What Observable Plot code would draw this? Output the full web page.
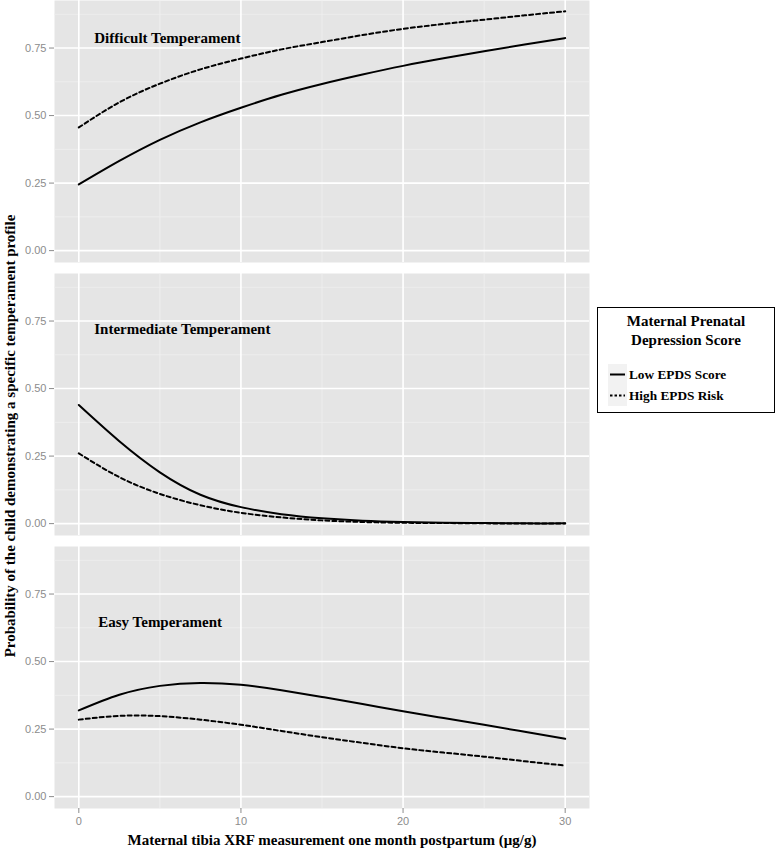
<!DOCTYPE html>
<html>
<head>
<meta charset="utf-8">
<script src="https://cdn.jsdelivr.net/npm/d3@7"></script>
<script src="https://cdn.jsdelivr.net/npm/@observablehq/plot@0.6"></script>
<style>
  html, body { margin: 0; padding: 0; background: #fff; }
  #wrap { position: relative; width: 777px; height: 849px; overflow: hidden; }
  .serif { font-family: "Liberation Serif", "Times New Roman", serif; font-weight: bold; color: #000; }
  #ytitle { position: absolute; left: 10px; top: 436px; transform: translate(-50%, -50%) rotate(-90deg); white-space: nowrap; font-size: 15px; }
  #xtitle { position: absolute; left: 332px; top: 832px; transform: translateX(-50%); white-space: nowrap; font-size: 15px; line-height: 16px; }
  #legend { position: absolute; left: 597px; top: 307px; width: 176px; height: 104px; border: 1.5px solid #000; background: #fff; }
  #legend .ltitle { text-align: center; font-size: 15px; line-height: 19px; margin-top: 4px; }
  #legend .entries { position: absolute; left: 10px; top: 56px; }
  #legend .entry { display: flex; align-items: center; height: 21px; font-size: 13.3px; }
  #legend .entry svg { display: block; margin-right: 2px; }
</style>
</head>
<body>
<div id="wrap">
  <div id="chart"></div>
  <div id="ytitle" class="serif"></div>
  <div id="xtitle" class="serif"></div>
  <div id="legend" class="serif"></div>
</div>
<script>
// ---- data ----
const xValues = [0, 2.5, 5, 7.5, 10, 12.5, 15, 17.5, 20, 22.5, 25, 27.5, 30];
const difficultLow  = [0.245, 0.332, 0.410, 0.475, 0.529, 0.577, 0.617, 0.652, 0.684, 0.712, 0.738, 0.763, 0.787];
const difficultHigh = [0.456, 0.549, 0.618, 0.671, 0.711, 0.745, 0.772, 0.798, 0.821, 0.839, 0.855, 0.871, 0.886];
const intermediateLow  = [0.439, 0.305, 0.190, 0.107, 0.061, 0.035, 0.020, 0.011, 0.006, 0.003, 0.002, 0.001, 0.001];
const intermediateHigh = [0.260, 0.172, 0.110, 0.068, 0.040, 0.023, 0.012, 0.006, 0.003, 0.002, 0.001, 0.0005, 0.0003];
const easyLow  = [0.319, 0.377, 0.410, 0.421, 0.414, 0.394, 0.369, 0.343, 0.316, 0.291, 0.266, 0.240, 0.214];
const easyHigh = [0.285, 0.299, 0.298, 0.285, 0.266, 0.243, 0.220, 0.199, 0.179, 0.163, 0.148, 0.131, 0.115];
const panels = ["Difficult Temperament", "Intermediate Temperament", "Easy Temperament"];
const seriesNames = ["Low EPDS Score", "High EPDS Risk"];
const xTicks = [0, 10, 20, 30];
const yTicks = [0, 0.25, 0.5, 0.75];
const xMinor = [5, 15, 25];
const yMinor = [0.125, 0.375, 0.625, 0.875];
const xTitle = "Maternal tibia XRF measurement one month postpartum (μg/g)";
const yTitle = "Probability of the child demonstrating a specific temperament profile";
const legendTitle = ["Maternal Prenatal", "Depression Score"];

// ---- build table ----
const seriesByPanel = [
  [difficultLow, difficultHigh],
  [intermediateLow, intermediateHigh],
  [easyLow, easyHigh]
];
const rows = [];
panels.forEach((p, i) => {
  seriesByPanel[i].forEach((vals, j) => {
    vals.forEach((v, k) => rows.push({panel: p, series: seriesNames[j], x: xValues[k], y: v}));
  });
});
const solid = rows.filter(d => d.series === seriesNames[0]);
const dashed = rows.filter(d => d.series === seriesNames[1]);
const labelPos = [[0.95, 0.785], [0.95, 0.718], [1.2, 0.645]];
const labels = panels.map((p, i) => ({panel: p, x: labelPos[i][0], y: labelPos[i][1]}));

const chart = Plot.plot({
  width: 777,
  height: 849,
  marginLeft: 54,
  marginRight: 188,
  marginTop: 0,
  marginBottom: 41,
  style: {fontFamily: "'Liberation Sans', Arial, sans-serif", fontSize: "11px", background: "#fff"},
  x: {domain: [-1.5, 31.5]},
  y: {domain: [-0.044, 0.926]},
  fy: {domain: panels, axis: null, paddingInner: 0.0403, paddingOuter: 0, label: null},
  marks: [
    Plot.frame({fill: "#e5e5e5", stroke: null}),
    Plot.gridX(xMinor, {stroke: "#f0f0f0", strokeOpacity: 1, strokeWidth: 0.8}),
    Plot.gridY(yMinor, {stroke: "#f0f0f0", strokeOpacity: 1, strokeWidth: 0.8}),
    Plot.gridX(xTicks, {stroke: "#fff", strokeOpacity: 1, strokeWidth: 1.6}),
    Plot.gridY(yTicks, {stroke: "#fff", strokeOpacity: 1, strokeWidth: 1.6}),
    Plot.axisY(yTicks, {tickFormat: d3.format(".2f"), tickSize: 5, tickPadding: 3, color: "#8c8c8c", label: null, fontSize: 11}),
    Plot.axisX(xTicks, {tickSize: 5, tickPadding: 4, color: "#8c8c8c", label: null, fontSize: 11}),
    Plot.line(solid, {x: "x", y: "y", fy: "panel", z: "panel", curve: "natural", stroke: "#000", strokeWidth: 2}),
    Plot.line(dashed, {x: "x", y: "y", fy: "panel", z: "panel", curve: "natural", stroke: "#000", strokeWidth: 2, strokeDasharray: "4,3"}),
    Plot.text(labels, {x: "x", y: "y", fy: "panel", text: "panel", textAnchor: "start", fontFamily: "'Liberation Serif', 'Times New Roman', serif", fontWeight: "bold", fontSize: 15, fill: "#000"})
  ]
});
document.getElementById("chart").appendChild(chart);

document.getElementById("ytitle").textContent = yTitle;
document.getElementById("xtitle").textContent = xTitle;

const legend = document.getElementById("legend");
const lt = document.createElement("div");
lt.className = "ltitle";
lt.innerHTML = legendTitle.join("<br>");
legend.appendChild(lt);
const entries = document.createElement("div");
entries.className = "entries";
seriesNames.forEach((name, i) => {
  const e = document.createElement("div");
  e.className = "entry";
  const dash = i === 0 ? "" : ' stroke-dasharray="2.5,2"';
  e.innerHTML = `<svg width="19" height="21"><rect x="0" y="0" width="19" height="21" fill="#f2f2f2"></rect><line x1="2" x2="17" y1="10.5" y2="10.5" stroke="#000" stroke-width="2"${dash}></line></svg><span>${name}</span>`;
  entries.appendChild(e);
});
legend.appendChild(entries);
</script>
</body>
</html>
